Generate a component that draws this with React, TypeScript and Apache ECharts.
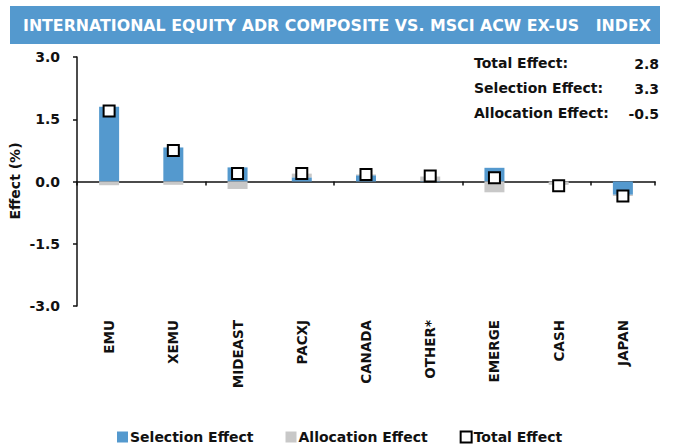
import React, { useEffect, useRef } from "react";
import * as echarts from "echarts";

const categories = ["EMU", "XEMU", "MIDEAST", "PACXJ", "CANADA", "OTHER*", "EMERGE", "CASH", "JAPAN"];
const selectionEffect = [1.8, 0.82, 0.34, 0.1, 0.15, 0.01, 0.33, 0.0, -0.32];
const allocationEffect = [-0.09, -0.08, -0.18, 0.09, 0.02, 0.11, -0.26, -0.08, -0.03];
const totalEffect = [1.7, 0.75, 0.19, 0.19, 0.17, 0.13, 0.09, -0.1, -0.35];
const summaryLabels = ["Total Effect:", "Selection Effect:", "Allocation Effect:"];
const summaryValues = ["2.8", "3.3", "-0.5"];
const titleText = "INTERNATIONAL EQUITY ADR COMPOSITE VS. MSCI ACW EX-US   INDEX";

const BLUE = "#5499CE";
const GRAY = "#C8C8C8";
const FONT = "'DejaVu Sans'";
const INK = "#111";

export default function App() {
  const ref = useRef<HTMLDivElement>(null);
  useEffect(() => {
    document.body.style.margin = "0";
    const chart = echarts.init(ref.current!, null, { renderer: "svg" });
    const summaryGraphics: any[] = [];
    summaryLabels.forEach((l, i) => {
      summaryGraphics.push({
        type: "text",
        x: 474,
        y: 63 + i * 25,
        style: { text: l, font: `bold 14px ${FONT}`, fill: INK, textVerticalAlign: "middle" },
      });
      summaryGraphics.push({
        type: "text",
        x: 659,
        y: 64 + i * 25,
        style: {
          text: summaryValues[i],
          font: `bold 14px ${FONT}`,
          fill: INK,
          textAlign: "right",
          textVerticalAlign: "middle",
        },
      });
    });
    chart.setOption({
      animation: false,
      textStyle: { fontFamily: FONT },
      grid: { left: 77, right: 18, top: 57, bottom: 140, containLabel: false },
      graphic: [
        { type: "rect", shape: { x: 10, y: 6, width: 650, height: 38 }, style: { fill: BLUE } },
        {
          type: "text",
          x: 23,
          y: 25.5,
          style: {
            text: titleText,
            font: `bold 15.8px ${FONT}`,
            fill: "#fff",
            textVerticalAlign: "middle",
          },
        },
        {
          type: "text",
          x: 15,
          y: 181,
          rotation: Math.PI / 2,
          style: {
            text: "Effect (%)",
            font: `bold 14px ${FONT}`,
            fill: INK,
            textAlign: "center",
            textVerticalAlign: "middle",
          },
        },
        ...summaryGraphics,
      ],
      legend: {
        bottom: -3,
        left: 112,
        itemWidth: 11,
        itemHeight: 11,
        itemGap: 32,
        textStyle: {
          fontFamily: FONT,
          fontWeight: "bold",
          fontSize: 14,
          color: INK,
          padding: [0, 0, 0, -3],
        },
        data: [
          { name: "Selection Effect", icon: "rect" },
          { name: "Allocation Effect", icon: "rect" },
          { name: "Total Effect", icon: "rect" },
        ],
      },
      xAxis: [
        {
          type: "category",
          data: categories,
          position: "bottom",
          axisLine: { show: false, onZero: false },
          axisTick: { show: false },
          axisLabel: {
            rotate: 90,
            margin: 14,
            fontFamily: FONT,
            fontWeight: "bold",
            fontSize: 13.5,
            color: INK,
          },
        },
        {
          type: "category",
          data: categories,
          position: "top",
          axisLine: { show: true, onZero: true, lineStyle: { color: INK, width: 1.5 } },
          axisTick: { show: true, inside: true, length: 4, lineStyle: { color: INK, width: 1.5 } },
          axisLabel: { show: false },
        },
      ],
      yAxis: {
        type: "value",
        min: -3,
        max: 3,
        interval: 1.5,
        splitLine: { show: false },
        axisLine: { show: true, lineStyle: { color: INK, width: 1.5 } },
        axisTick: { show: true, length: 4, lineStyle: { color: INK, width: 1.5 } },
        axisLabel: {
          margin: 17,
          fontFamily: FONT,
          fontWeight: "bold",
          fontSize: 14,
          color: INK,
          formatter: (v: number) => v.toFixed(1),
        },
      },
      series: [
        {
          name: "Selection Effect",
          type: "bar",
          stack: "eff",
          barWidth: 20,
          data: selectionEffect,
          itemStyle: { color: BLUE },
        },
        {
          name: "Allocation Effect",
          type: "bar",
          stack: "eff",
          barWidth: 20,
          data: allocationEffect,
          itemStyle: { color: GRAY },
        },
        {
          name: "Total Effect",
          type: "scatter",
          symbol: "rect",
          symbolSize: 11,
          data: totalEffect,
          z: 5,
          itemStyle: { color: "#fff", borderColor: "#000", borderWidth: 2, opacity: 1 },
        },
      ],
    });
    return () => chart.dispose();
  }, []);
  return <div ref={ref} style={{ width: 673, height: 446 }} />;
}
